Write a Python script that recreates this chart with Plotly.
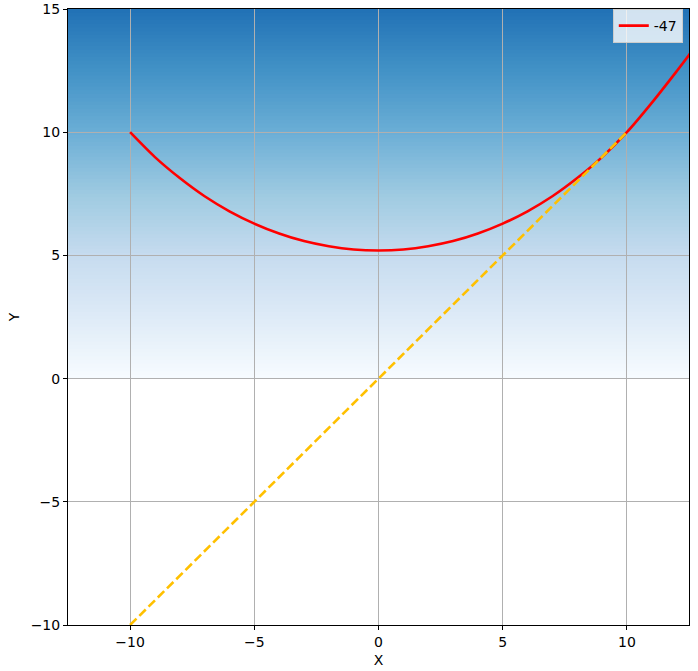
import numpy as np
import plotly.graph_objects as go

# Data
curve_x = [-10, -9, -8, -7, -6, -5, -4, -3, -2, -1, 0, 1, 2, 3, 4, 5, 6, 7, 8, 9, 10, 11, 12, 12.5, 13]
curve_y = [10.0, 8.99, 8.14, 7.40, 6.79, 6.29, 5.89, 5.58, 5.37, 5.24, 5.20, 5.24, 5.37, 5.58, 5.89, 6.29, 6.79, 7.40, 8.14, 8.99, 10.0, 11.19, 12.47, 13.13, 13.85]
diag_x = [-10, 10]
diag_y = [-10, 10]
series_name = "-47"

x_ticks = [-10, -5, 0, 5, 10]
y_ticks = [-10, -5, 0, 5, 10, 15]
x_range = [-12.5, 12.5]
y_range = [-10, 15]
grad_range = [0, 15]

# matplotlib "Blues" stops
blues = [(247, 251, 255), (222, 235, 247), (198, 219, 239), (158, 202, 225),
         (107, 174, 214), (66, 146, 198), (33, 113, 181), (8, 81, 156), (8, 48, 107)]


def blues_at(t):
    t = min(max(t, 0), 1) * (len(blues) - 1)
    i = int(np.floor(t))
    if i >= len(blues) - 1:
        return blues[-1]
    f = t - i
    a, b = blues[i], blues[i + 1]
    return tuple(int(round(a[k] + (b[k] - a[k]) * f)) for k in range(3))


fig = go.Figure()

# Gradient background as shapes below gridlines
n = 100
edges = np.linspace(grad_range[0], grad_range[1], n + 1)
shapes = []
for i in range(n):
    t = (i + 0.5) / n * 0.75
    c = blues_at(t)
    shapes.append(dict(type="rect", xref="x", yref="y", layer="below",
                       x0=x_range[0], x1=x_range[1], y0=edges[i],
                       y1=min(edges[i + 1] + 0.08, grad_range[1]),
                       fillcolor="rgb(%d,%d,%d)" % c, line=dict(width=0)))

fig.add_trace(go.Scatter(x=curve_x, y=curve_y, mode="lines", name=series_name,
                         line=dict(color="red", width=2.6, shape="spline", smoothing=0.8)))
fig.add_trace(go.Scatter(x=diag_x, y=diag_y, mode="lines", showlegend=False,
                         line=dict(color="#FFC000", width=2.6, dash="9px,4px")))

font = dict(family="DejaVu Sans", size=14, color="black")
axis_common = dict(showline=True, linecolor="black", linewidth=1, mirror=True,
                   ticks="outside", ticklen=4, tickcolor="black", automargin=False,
                   showgrid=True, gridcolor="#b0b0b0", gridwidth=0.8, zeroline=False,
                   tickfont=font)

fig.update_layout(
    width=698, height=671,
    margin=dict(l=68, r=9, t=9, b=46, autoexpand=False),
    paper_bgcolor="white", plot_bgcolor="white",
    shapes=shapes,
    showlegend=True,
    legend=dict(x=0.99, y=1.0, xanchor="right", yanchor="top",
                bgcolor="rgba(255,255,255,0.8)", bordercolor="#cccccc", borderwidth=1,
                font=font),
    xaxis=dict(range=x_range, tickvals=x_ticks,
               title=dict(text="X", font=font, standoff=6),
               **axis_common),
    yaxis=dict(range=y_range, tickvals=y_ticks,
               title=dict(text="Y", font=font, standoff=7),
               **axis_common),
)

fig.write_html("out.html", config={"displayModeBar": False},
               post_script="document.body.style.margin='0';document.body.style.overflow='hidden';")
